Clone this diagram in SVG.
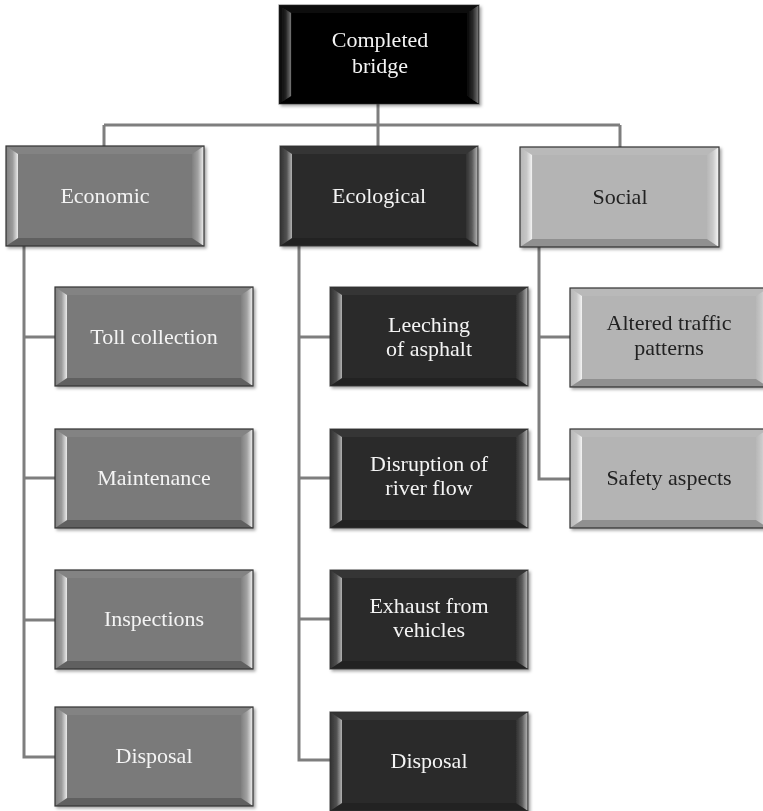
<svg xmlns="http://www.w3.org/2000/svg" xmlns:xlink="http://www.w3.org/1999/xlink" width="763" height="811" viewBox="0 0 763 811">
  <style>
    .wire { fill: none; stroke: #7e7e7e; stroke-width: 3; }
    .face { stroke: #333; stroke-width: 1.2; }
    .black { fill: #000; }
    .dark { fill: #2a2a2a; }
    .mid { fill: #7a7a7a; }
    .light { fill: #b4b4b4; }
    text { font-family: "Liberation Serif", "Times New Roman", serif; font-size: 22px; text-anchor: middle; }
    .lt { fill: #f4f4f4; }
    .dk { fill: #222; }
  </style>
  <defs>
    <linearGradient id="gL" x1="0" y1="0" x2="1" y2="0">
      <stop offset="0" stop-color="#fff" stop-opacity="0.04"/>
      <stop offset="0.55" stop-color="#fff" stop-opacity="0.25"/>
      <stop offset="1" stop-color="#fff" stop-opacity="0.85"/>
    </linearGradient>
    <linearGradient id="gR" x1="0" y1="0" x2="1" y2="0">
      <stop offset="0" stop-color="#fff" stop-opacity="0.04"/>
      <stop offset="0.5" stop-color="#fff" stop-opacity="0.3"/>
      <stop offset="1" stop-color="#fff" stop-opacity="0.92"/>
    </linearGradient>
    <filter id="shadow" x="-5%" y="-5%" width="115%" height="120%">
      <feDropShadow dx="2" dy="2" stdDeviation="1.5" flood-color="#000" flood-opacity="0.35"/>
    </filter>
    <!-- bevel overlay for a 198 x 99 button -->
    <g id="bevel">
      <polygon points="0,0 198,0 186,8 12,8" fill="#fff" fill-opacity="0.07"/>
      <polygon points="0,99 12,91 186,91 198,99" fill="#000" fill-opacity="0.2"/>
      <polygon points="0,0 12,8 12,91 0,99" fill="url(#gL)"/>
      <polygon points="198,0 186,8 186,91 198,99" fill="url(#gR)"/>
      <rect x="0" y="0" width="198" height="99" fill="none" stroke="#333" stroke-width="1.2"/>
    </g>
  </defs>

  <rect width="763" height="811" fill="#fff"/>

  <!-- connectors -->
  <g id="connectors">
    <path class="wire" d="M378,104 V125 M104,125 H620 M104,125 V146 M378,125 V146 M620,125 V147"/>
    <path class="wire" d="M24,246 V757 H55 M24,337 H55 M24,478 H55 M24,620 H55"/>
    <path class="wire" d="M299,246 V760 H330 M299,337 H330 M299,478 H330 M299,619 H330"/>
    <path class="wire" d="M539,247 V479 H570 M539,337 H570"/>
  </g>

  <!-- top node -->
  <g id="completed-bridge" filter="url(#shadow)">
    <rect class="black" x="279" y="5" width="200" height="99"/>
    <use xlink:href="#bevel" href="#bevel" transform="translate(279,5) scale(1.0101,1)" opacity="0.55"/>
    <text class="lt" x="380" y="47">Completed</text>
    <text class="lt" x="380" y="73">bridge</text>
  </g>

  <!-- category nodes -->
  <g id="economic" filter="url(#shadow)">
    <rect class="mid" x="6" y="146" width="198" height="100"/>
    <use xlink:href="#bevel" href="#bevel" transform="translate(6,146) scale(1,1.0101)"/>
    <text class="lt" x="105" y="203">Economic</text>
  </g>
  <g id="ecological" filter="url(#shadow)">
    <rect class="dark" x="280" y="146" width="198" height="100"/>
    <use xlink:href="#bevel" href="#bevel" transform="translate(280,146) scale(1,1.0101)" opacity="0.75"/>
    <text class="lt" x="379" y="203">Ecological</text>
  </g>
  <g id="social" filter="url(#shadow)">
    <rect class="light" x="520" y="147" width="199" height="100"/>
    <use xlink:href="#bevel" href="#bevel" transform="translate(520,147) scale(1.005,1.0101)"/>
    <text class="dk" x="620" y="204">Social</text>
  </g>

  <!-- economic children -->
  <g id="toll-collection" filter="url(#shadow)">
    <rect class="mid" x="55" y="287" width="198" height="99"/>
    <use xlink:href="#bevel" href="#bevel" x="55" y="287"/>
    <text class="lt" x="154" y="344">Toll collection</text>
  </g>
  <g id="maintenance" filter="url(#shadow)">
    <rect class="mid" x="55" y="429" width="198" height="99"/>
    <use xlink:href="#bevel" href="#bevel" x="55" y="429"/>
    <text class="lt" x="154" y="485">Maintenance</text>
  </g>
  <g id="inspections" filter="url(#shadow)">
    <rect class="mid" x="55" y="570" width="198" height="99"/>
    <use xlink:href="#bevel" href="#bevel" x="55" y="570"/>
    <text class="lt" x="154" y="626">Inspections</text>
  </g>
  <g id="economic-disposal" filter="url(#shadow)">
    <rect class="mid" x="55" y="707" width="198" height="99"/>
    <use xlink:href="#bevel" href="#bevel" x="55" y="707"/>
    <text class="lt" x="154" y="763">Disposal</text>
  </g>

  <!-- ecological children -->
  <g id="leeching" filter="url(#shadow)">
    <rect class="dark" x="330" y="287" width="198" height="99"/>
    <use xlink:href="#bevel" href="#bevel" x="330" y="287" opacity="0.75"/>
    <text class="lt" x="429" y="332">Leeching</text>
    <text class="lt" x="429" y="356">of asphalt</text>
  </g>
  <g id="river-flow" filter="url(#shadow)">
    <rect class="dark" x="330" y="429" width="198" height="99"/>
    <use xlink:href="#bevel" href="#bevel" x="330" y="429" opacity="0.75"/>
    <text class="lt" x="429" y="471">Disruption of</text>
    <text class="lt" x="429" y="495">river flow</text>
  </g>
  <g id="exhaust" filter="url(#shadow)">
    <rect class="dark" x="330" y="570" width="198" height="99"/>
    <use xlink:href="#bevel" href="#bevel" x="330" y="570" opacity="0.75"/>
    <text class="lt" x="429" y="613">Exhaust from</text>
    <text class="lt" x="429" y="637">vehicles</text>
  </g>
  <g id="ecological-disposal" filter="url(#shadow)">
    <rect class="dark" x="330" y="712" width="198" height="99"/>
    <use xlink:href="#bevel" href="#bevel" x="330" y="712" opacity="0.75"/>
    <text class="lt" x="429" y="768">Disposal</text>
  </g>

  <!-- social children -->
  <g id="traffic-patterns" filter="url(#shadow)">
    <rect class="light" x="570" y="288" width="198" height="99"/>
    <use xlink:href="#bevel" href="#bevel" x="570" y="288"/>
    <text class="dk" x="669" y="330">Altered traffic</text>
    <text class="dk" x="669" y="355">patterns</text>
  </g>
  <g id="safety-aspects" filter="url(#shadow)">
    <rect class="light" x="570" y="429" width="198" height="99"/>
    <use xlink:href="#bevel" href="#bevel" x="570" y="429"/>
    <text class="dk" x="669" y="485">Safety aspects</text>
  </g>
</svg>
